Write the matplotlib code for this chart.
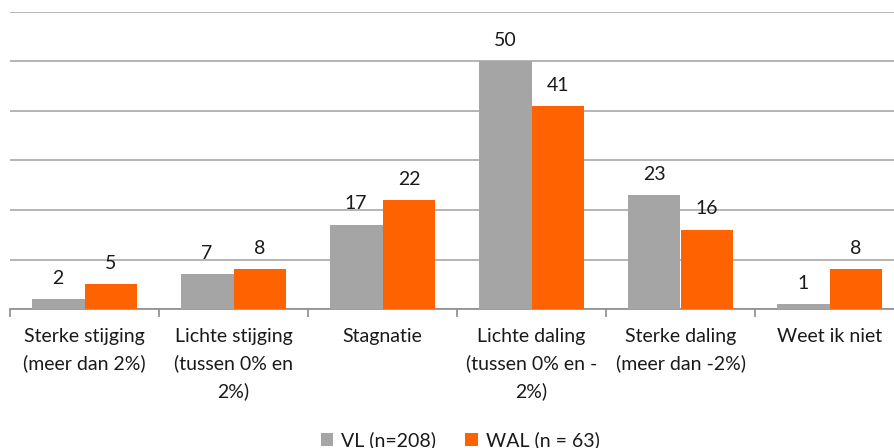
import matplotlib.pyplot as plt
import numpy as np

categorieen = ["Sterke stijging\n(meer dan 2%)", "Lichte stijging\n(tussen 0% en\n2%)", "Stagnatie",
               "Lichte daling\n(tussen 0% en -\n2%)", "Sterke daling\n(meer dan -2%)", "Weet ik niet"]
vl = [2, 7, 17, 50, 23, 1]
wal = [5, 8, 22, 41, 16, 8]
reeksen = ["VL (n=208)", "WAL (n = 63)"]

grijs = "#A5A5A5"
oranje = "#FF6200"

plt.rcParams["font.family"] = ["Lato", "DejaVu Sans"]

fig = plt.figure(figsize=(8.94, 4.48), dpi=100)
# assen lopen iets voorbij de rechterrand, zoals in het origineel
ax = fig.add_axes([10 / 894, 1 - 309 / 448, 894 / 894, 297 / 448])

x = np.arange(len(categorieen))
breedte = 0.355
b1 = ax.bar(x - breedte / 2, vl, breedte, color=grijs, label=reeksen[0], zorder=3)
b2 = ax.bar(x + breedte / 2, wal, breedte, color=oranje, label=reeksen[1], zorder=3)

for bars in (b1, b2):
    for b in bars:
        ax.annotate(str(int(b.get_height())), (b.get_x() + b.get_width() / 2, b.get_height()),
                    xytext=(0, 9), textcoords="offset points", ha="center", va="bottom",
                    fontsize=14, color="#1a1a1a")

ax.set_xlim(-0.5, len(categorieen) - 0.5)
ax.set_ylim(0, 60)
ax.set_yticks(range(0, 61, 10))
ax.yaxis.grid(True, color="#B4B4B4", linewidth=1.4, zorder=0)
ax.tick_params(axis="y", left=False, labelleft=False)

ax.set_xticks(np.arange(-0.5, len(categorieen), 1.0))
ax.set_xticklabels([])
ax.set_xticks(x, minor=True)
ax.set_xticklabels(categorieen, minor=True, fontsize=14, color="#1a1a1a", linespacing=1.62)
ax.tick_params(axis="x", which="major", length=6, width=1.2, color="#8C8C8C", direction="out")
ax.tick_params(axis="x", which="minor", length=0, pad=14)

for s in ["top", "right", "left"]:
    ax.spines[s].set_visible(False)
ax.spines["bottom"].set_color("#8C8C8C")
ax.spines["bottom"].set_linewidth(1.2)

fig.legend(handles=[b1, b2], labels=reeksen, loc="center", bbox_to_anchor=(460 / 894, 1 - 440 / 448),
           ncol=2, frameon=False, fontsize=14, handlelength=0.65, handleheight=0.65,
           handletextpad=0.4, columnspacing=1.5, labelcolor="#1a1a1a")

fig.savefig("out.png", dpi=100)
